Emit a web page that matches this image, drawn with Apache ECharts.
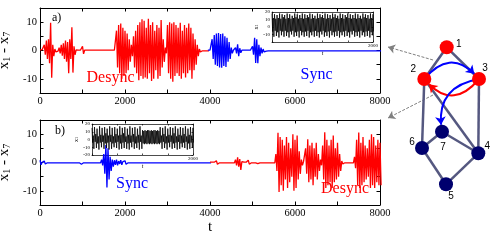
<!DOCTYPE html>
<html><head><meta charset="utf-8">
<script src="https://cdn.jsdelivr.net/npm/echarts@6.0.0/dist/echarts.min.js"></script>
<style>html,body{margin:0;padding:0;background:#fff}#c{width:492px;height:240px}</style>
</head><body><div id="c"></div>
<script>
// ---------- DATA ----------
// main panels: envelope (upper / lower value) of x1-x7 every 50 time units, t = 0..8000
const mainStep = 50;
const aHi = [
0.2,0.3,2,3.5,4,9.8,2,0.5,0.2,1,
2,2.5,3.5,3,4,8.2,1.5,0.2,0.1,0.1,
1.5,0.1,0.1,0.1,0.1,0.1,0.1,0.1,0.1,0.1,
0.1,0.1,0.1,0.1,0.1,0.1,7,9,9.5,8,
7,6,4,2,5,7,9,10,11,10.5,
8,11.2,9,10,7,9,8,10.8,4,1,
9,10,9.5,10,9,8,9.8,7,9,8,
9.5,8,6,4,2,0.5,0.1,0.1,0.1,0.1,
0.1,4,5.5,6,6.2,5.8,6,5,4.5,3,
1,0.1,1,2.2,0.8,0.1,0.1,0.1,0.1,0.1,
1.5,4.5,4,2,1,0.5,0.2,0.1,0.1,0.1,
0.1,0.1,0.1,0.1,0.1,0.1,0.1,0.1,0.1,0.1,
0.1,0.1,0.1,0.1,0.1,0.1,0.1,0.1,0.1,0.1,
0.1,0.1,0.1,0.1,0.1,0.1,0.1,0.1,0.1,0.1,
0.1,0.1,0.1,0.1,0.1,0.1,0.1,0.1,0.1,0.1,
0.1,0.1,0.1,0.1,0.1,0.1,0.1,0.1,0.1,0.1,
0.1];
const aLo = [
-0.2,-0.3,-1.5,-3,-4.5,-9.6,-2,-0.5,-0.2,-1,
-1.8,-3,-4,-8,-3,-7.8,-1.5,-0.2,-0.1,-0.1,
-1.2,-0.1,-0.1,-0.1,-0.1,-0.1,-0.1,-0.1,-0.1,-0.1,
-0.1,-0.1,-0.1,-0.1,-0.1,-0.1,-6,-8,-10,-9,
-8,-7,-4,-2,-6,-8,-10.5,-9,-10,-9.5,
-10,-8,-10.8,-10,-7,-10,-9,-6,-4,-1,
-8,-10,-11,-9,-8,-9,-10,-8,-9.5,-8,
-7,-10,-7,-5,-2,-0.5,-0.1,-0.1,-0.1,-0.1,
-0.1,-3,-5,-5.5,-6,-6.1,-5.5,-5.8,-4,-3,
-1,-0.1,-1,-2,-0.8,-0.1,-0.1,-0.1,-0.1,-0.1,
-1.5,-4.4,-4.5,-2,-1,-0.5,-0.2,-0.1,-0.1,-0.1,
-0.1,-0.1,-0.1,-0.1,-0.1,-0.1,-0.1,-0.1,-0.1,-0.1,
-0.1,-0.1,-0.1,-0.1,-0.1,-0.1,-0.1,-0.1,-0.1,-0.1,
-0.1,-0.1,-0.1,-0.1,-0.1,-0.1,-0.1,-0.1,-0.1,-0.1,
-0.1,-0.1,-0.1,-0.1,-0.1,-0.1,-0.1,-0.1,-0.1,-0.1,
-0.1,-0.1,-0.1,-0.1,-0.1,-0.1,-0.1,-0.1,-0.1,-0.1,
-0.1];
const bHi = [
0.8,0.1,0.5,0.1,0.1,0.1,0.1,0.1,0.1,0.1,
0.1,0.1,0.1,0.1,0.1,0.1,0.1,0.1,0.1,0.6,
0.1,0.1,0.1,0.1,0.1,0.1,0.1,0.1,0.1,1,
3,6.2,5,2,1,0.8,1,0.5,0.8,0.3,
0.6,0.1,0.1,0.1,0.1,0.1,0.1,0.1,0.1,0.1,
0.1,0.1,0.1,0.1,0.1,0.1,0.1,0.1,0.1,0.1,
0.1,0.1,0.1,0.1,0.1,0.1,0.1,0.1,0.1,0.1,
0.1,0.1,0.1,0.1,0.1,0.1,0.1,0.1,0.1,0.1,
0.1,0.1,0.1,0.6,0.1,0.1,0.1,0.1,0.1,0.1,
0.1,0.1,1,1.8,1.2,0.3,0.1,0.1,0.8,0.1,
0.1,0.1,0.4,0.1,0.1,0.1,0.1,0.1,0.1,0.1,
0.1,3,10.5,9,8,6,9,7,5,10,
8,9.5,4,1,0.3,5,8.2,6,7,5,
7,3,1,6,10.7,8,6,8,9.5,5,
7,3,0.5,0.1,0.1,0.1,0.1,0.1,2,8,
10.6,7,9,6,5,8,10,9,6,8,
7];
const bLo = [
-0.8,-0.1,-0.5,-0.1,-0.1,-0.1,-0.1,-0.1,-0.1,-0.1,
-0.1,-0.1,-0.1,-0.1,-0.1,-0.1,-0.1,-0.1,-0.1,-0.6,
-0.1,-0.1,-0.1,-0.1,-0.1,-0.1,-0.1,-0.1,-0.1,-1,
-4,-8.8,-6,-3,-1.5,-0.8,-1,-0.5,-0.8,-0.3,
-0.6,-0.1,-0.1,-0.1,-0.1,-0.1,-0.1,-0.1,-0.1,-0.1,
-0.1,-0.1,-0.1,-0.1,-0.1,-0.1,-0.1,-0.1,-0.1,-0.1,
-0.1,-0.1,-0.1,-0.1,-0.1,-0.1,-0.1,-0.1,-0.1,-0.1,
-0.1,-0.1,-0.1,-0.1,-0.1,-0.1,-0.1,-0.1,-0.1,-0.1,
-0.1,-0.1,-0.1,-0.6,-0.1,-0.1,-0.1,-0.1,-0.1,-0.1,
-0.1,-0.1,-1,-1.5,-2.6,-0.3,-0.1,-0.1,-0.6,-0.1,
-0.1,-0.1,-0.4,-0.1,-0.1,-0.1,-0.1,-0.1,-0.1,-0.1,
-0.1,-3,-10.4,-8,-10,-6,-9,-7,-5,-10,
-9,-6,-4,-1,-0.3,-4,-7,-6,-8,-5,
-6,-3,-1,-6,-9,-8,-7,-9,-7,-6,
-5,-3,-0.5,-0.1,-0.1,-0.1,-0.1,-0.1,-2,-8,
-9,-8,-7,-6,-5,-9,-8,-9,-7,-8,
-8];
const splitA = 3950;   // panel a: red (desync) before, blue (sync) after
const splitB = 4000;   // panel b: blue (sync) before, red (desync) after

// insets: x1(t), upper / lower value every 25 time units, t = 0..2000
const insStep = 25;
const insAHi = [
18,12,17,11,16,12,18,11,17,13,
16,11,18,12,17,11,15,12,18,13,
17,11,16,12,18,11,17,12,16,13,
18,11,17,12,15,11,18,12,17,13,
16,12,18,11,17,12,16,11,18,13,
17,12,15,11,18,12,17,11,16,13,
18,12,17,11,16,12,18,11,17,12,
15,11,18,13,17,12,16,11,18,12,
17];
const insALo = [
-6,-13,-5,-12,-7,-14,-5,-11,-6,-13,
-5,-12,-7,-14,-6,-10,-5,-13,-7,-12,
-6,-14,-5,-11,-7,-13,-6,-12,-5,-14,
-7,-11,-6,-13,-5,-12,-7,-14,-6,-10,
-5,-13,-7,-12,-6,-14,-5,-11,-7,-13,
-6,-12,-5,-14,-7,-11,-6,-13,-5,-12,
-7,-14,-6,-10,-5,-13,-7,-12,-6,-14,
-5,-11,-7,-13,-6,-12,-5,-14,-7,-11,
-6];
const insBHi = [
15,5,16,7,14,4,17,6,15,5,
16,8,14,5,17,6,15,4,16,7,
14,5,17,6,15,8,16,4,14,6,
17,5,15,7,16,4,14,6,17,5,
12,11,12,11,12,12,11,12,11,12,
12,11,12,11,16,5,15,7,17,4,
14,6,16,5,15,8,17,4,14,6,
16,5,15,7,17,4,14,6,16,5,
15];
const insBLo = [
-4,-12,-3,-11,-5,-13,-4,-10,-3,-12,
-5,-11,-4,-13,-3,-12,-5,-10,-4,-11,
-3,-13,-5,-12,-4,-11,-3,-12,-5,-13,
-4,-10,-3,-12,-5,-11,-4,-13,-3,-12,
-5,-6,-5,-6,-5,-6,-5,-6,-5,-6,
-5,-6,-5,-6,-4,-12,-3,-11,-5,-13,
-4,-10,-3,-12,-5,-11,-4,-13,-3,-12,
-5,-10,-4,-11,-3,-13,-5,-12,-4,-11,
-4];

// tick labels
const mainXLabels = [0, 2000, 4000, 6000, 8000];
const mainYLabels = [-10, 0, 10];
const insXLabels = [2000];
const insAYLabels = [-10, 0, 10, 20];
const insBYLabels = [-20, -10, 0, 10, 20];

// network
const nodeNames = ['1','2','3','4','5','6','7'];
const nodeX = [66.7, 44.3, 99, 98.3, 66, 42, 62];
const nodeY = [27.3, 59, 59, 133.3, 164.3, 128, 111.7];
const nodeGroup = ['desync','desync','desync','sync','sync','sync','sync'];
const edges = [['1','2'],['1','3'],['2','6'],['3','4'],['2','4'],['6','7'],['7','4'],['6','5'],['5','4']];
const couplings = [['2','3','blue'],['3','2','red'],['3','7','blue']];
const pointers = [[[53,40],[8,27]], [[53,75],[8,98]]];

// ---------- BUILD ----------
const SERIF = 'Liberation Serif', SANS = 'Liberation Sans';
function zig(hi, lo, step, from, to) {
  const out = [];
  for (let i = 0; i < hi.length; i++) {
    const t = i * step;
    if (t < from || t > to) continue;
    out.push([t, hi[i]]);
    out.push([t + step / 2, lo[i]]);
  }
  return out;
}
function xAx(grid, pos, min, max, interval, labels, o) {
  o = o || {};
  return {
    type: 'value', gridIndex: grid, position: pos, min, max, interval,
    axisLine: {show: true, onZero: false, lineStyle: {color: '#000', width: o.lw || 1}},
    axisTick: {show: true, inside: true, length: o.tl || 3.5, lineStyle: {color: '#000', width: o.lw || 1}},
    axisLabel: {show: !!labels, margin: o.margin || 3, color: '#000', fontSize: o.fs || 10.5, fontFamily: SERIF,
      formatter: v => (labels && labels.includes(v)) ? String(v) : ''},
    splitLine: {show: false},
    name: o.name || '', nameLocation: 'middle', nameGap: o.nameGap || 15,
    nameTextStyle: {color: '#000', fontFamily: SERIF, fontSize: o.nfs || 14}
  };
}
function yAx(grid, pos, min, max, interval, labels, o) {
  o = o || {};
  return {
    type: 'value', gridIndex: grid, position: pos, min, max, interval,
    axisLine: {show: true, onZero: false, lineStyle: {color: '#000', width: o.lw || 1}},
    axisTick: {show: true, inside: true, length: o.tl || 3.5, lineStyle: {color: '#000', width: o.lw || 1}},
    axisLabel: {show: !!labels, margin: o.margin || 3, color: '#000', fontSize: o.fs || 10.5, fontFamily: SERIF,
      formatter: v => (labels && labels.includes(v)) ? String(v) : ''},
    splitLine: {show: false},
    name: o.name || '', nameLocation: 'middle', nameGap: o.nameGap || 15, nameRotate: 90,
    nameTextStyle: {color: '#000', fontFamily: SERIF, fontSize: o.nfs || 15,
      rich: {s: {fontFamily: SERIF, fontSize: o.sfs || 10, padding: [o.sp || 6, 0, 0, 0]}}}
  };
}
const yName = 'x{s|1} - x{s|7}';
const xAxis = [
  xAx(0, 'bottom', 0, 8000, 1000, mainXLabels),
  xAx(0, 'top', 0, 8000, 1000, null),
  xAx(1, 'bottom', 0, 8000, 1000, mainXLabels, {name: 't', nameGap: 15, nfs: 15}),
  xAx(1, 'top', 0, 8000, 1000, null),
  xAx(2, 'bottom', 0, 2000, 500, insXLabels, {lw: 0.7, tl: 1.5, fs: 5, margin: 1.5, name: 't', nameGap: 8, nfs: 6}),
  xAx(2, 'top', 0, 2000, 500, null, {lw: 0.7, tl: 1.5}),
  xAx(3, 'bottom', 0, 2000, 500, insXLabels, {lw: 0.7, tl: 1.5, fs: 5, margin: 1.5, name: 't', nameGap: 8, nfs: 6}),
  xAx(3, 'top', 0, 2000, 500, null, {lw: 0.7, tl: 1.5}),
  {type: 'value', gridIndex: 4, min: 0, max: 112, show: false}
];
const yAxis = [
  yAx(0, 'left', -15, 15, 5, mainYLabels, {name: yName, nameGap: 17}),
  yAx(0, 'right', -15, 15, 5, null),
  yAx(1, 'left', -15, 15, 5, mainYLabels, {name: yName, nameGap: 17}),
  yAx(1, 'right', -15, 15, 5, null),
  yAx(2, 'left', -20, 20, 10, insAYLabels, {lw: 0.7, tl: 1.5, fs: 5, margin: 2, name: 'x{s|1}', nameGap: 12, nfs: 6, sfs: 4, sp: 3}),
  yAx(2, 'right', -20, 20, 10, null, {lw: 0.7, tl: 1.5}),
  yAx(3, 'left', -20, 20, 10, insBYLabels, {lw: 0.7, tl: 1.5, fs: 5, margin: 2, name: 'x{s|1}', nameGap: 12, nfs: 6, sfs: 4, sp: 3}),
  yAx(3, 'right', -20, 20, 10, null, {lw: 0.7, tl: 1.5}),
  {type: 'value', gridIndex: 4, min: 0, max: 200, inverse: true, show: false}
];
function lineSeries(xi, yi, data, color, w) {
  return {type: 'line', xAxisIndex: xi, yAxisIndex: yi, data, symbol: 'none', showSymbol: false,
    lineStyle: {color, width: w}, itemStyle: {color}, silent: true, clip: true, z: 3};
}
const groupColor = {desync: '#ff0000', sync: '#00006e'};
const labelOffset = {'1': [12, -3], '2': [-11, -10], '3': [6, -11], '4': [9, -7], '5': [5, 12], '6': [-10, -6], '7': [1, 16]};
const curv = {'2-3': 0.6, '3-2': 0.6, '3-7': -0.5};
const graphSeries = {
  type: 'graph', coordinateSystem: 'cartesian2d', xAxisIndex: 8, yAxisIndex: 8,
  symbolSize: 14, z: 5, silent: true,
  data: nodeNames.map((n, i) => ({
    name: n, value: [nodeX[i], nodeY[i]],
    itemStyle: {color: groupColor[nodeGroup[i]]},
    label: {show: true, position: 'inside', offset: labelOffset[n], color: '#000', fontSize: 10, fontFamily: SANS, formatter: n}
  })),
  links: edges.map(e => ({source: e[0], target: e[1],
      lineStyle: {color: '#555880', width: 2.5, opacity: 1, curveness: 0}}))
    .concat(couplings.map(c => ({source: c[0], target: c[1], symbol: ['none', 'arrow'], symbolSize: [0, 8],
      lineStyle: {color: c[2] === 'blue' ? '#0000ff' : '#ff0000', width: 2, opacity: 1,
        curveness: curv[c[0] + '-' + c[1]]}})))
};
const pointerSeries = {
  type: 'lines', coordinateSystem: 'cartesian2d', xAxisIndex: 8, yAxisIndex: 8, z: 4, silent: true,
  symbol: ['none', 'arrow'], symbolSize: 7,
  lineStyle: {color: '#808080', width: 1, opacity: 1, type: [3, 1.5]},
  data: pointers.map(p => ({coords: p}))
};
const txt = (text, x, y, size, color, align) => ({type: 'text', x, y, z: 100, silent: true,
  style: {text, fill: color, font: size + 'px "' + SERIF + '"', align: align || 'center', verticalAlign: 'middle'}});

const G = {outerBoundsMode: 'none', containLabel: false};
const option = {
  animation: false,
  backgroundColor: '#fff',
  grid: [
    Object.assign({left: 40, top: 8, width: 340, height: 85}, G),
    Object.assign({left: 40, top: 120, width: 340, height: 85}, G),
    Object.assign({left: 272, top: 12, width: 101, height: 30, show: true, backgroundColor: '#fff', borderWidth: 0}, G),
    Object.assign({left: 92, top: 124, width: 101, height: 31, show: true, backgroundColor: '#fff', borderWidth: 0}, G),
    Object.assign({left: 380, top: 20, width: 112, height: 200}, G)
  ],
  xAxis, yAxis,
  series: [
    lineSeries(0, 0, zig(aHi, aLo, mainStep, 0, splitA), '#ff0000', 1.3),
    lineSeries(0, 0, zig(aHi, aLo, mainStep, splitA, 8000), '#0000ff', 1.3),
    lineSeries(2, 2, zig(bHi, bLo, mainStep, 0, splitB), '#0000ff', 1.3),
    lineSeries(2, 2, zig(bHi, bLo, mainStep, splitB, 8000), '#ff0000', 1.3),
    lineSeries(4, 4, zig(insAHi, insALo, insStep, 0, 2000), '#000', 0.8),
    lineSeries(6, 6, zig(insBHi, insBLo, insStep, 0, 2000), '#000', 0.8),
    pointerSeries,
    graphSeries
  ],
  graphic: [
    txt('a)', 52, 17.5, 12, '#000', 'left'),
    txt('Desync', 110.5, 77.5, 16, '#ff0000'),
    txt('Sync', 316.5, 74.5, 16, '#0000ff'),
    txt('b)', 55, 131, 12, '#000', 'left'),
    txt('Sync', 132, 184, 16, '#0000ff'),
    txt('Desync', 345, 189, 16, '#ff0000')
  ]
};
const chart = echarts.init(document.getElementById('c'), null, {renderer: 'canvas', width: 492, height: 240});
chart.setOption(option);
</script></body></html>
